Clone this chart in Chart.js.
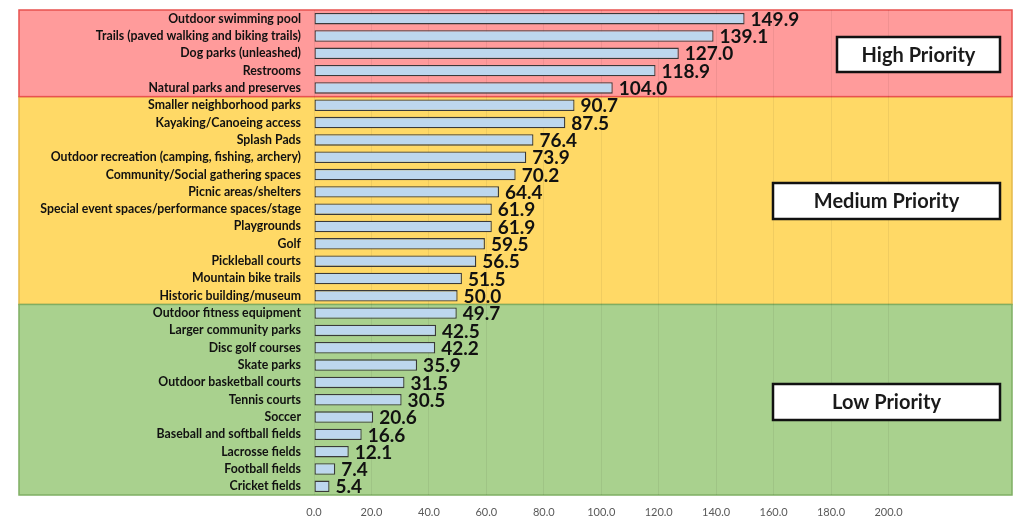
<!DOCTYPE html>
<html>
<head>
<meta charset="utf-8">
<script src="https://cdn.jsdelivr.net/npm/chart.js@4"></script>
<style>
  html, body { margin: 0; padding: 0; background: #ffffff; }
  #wrap { width: 1017px; height: 517px; }
</style>
</head>
<body>
<div id="wrap"><canvas id="chart" width="1017" height="517"></canvas></div>
<script>
// Dane wykresu
const amenities = [
  "Outdoor swimming pool",
  "Trails (paved walking and biking trails)",
  "Dog parks (unleashed)",
  "Restrooms",
  "Natural parks and preserves",
  "Smaller neighborhood parks",
  "Kayaking/Canoeing access",
  "Splash Pads",
  "Outdoor recreation (camping, fishing, archery)",
  "Community/Social gathering spaces",
  "Picnic areas/shelters",
  "Special event spaces/performance spaces/stage",
  "Playgrounds",
  "Golf",
  "Pickleball courts",
  "Mountain bike trails",
  "Historic building/museum",
  "Outdoor fitness equipment",
  "Larger community parks",
  "Disc golf courses",
  "Skate parks",
  "Outdoor basketball courts",
  "Tennis courts",
  "Soccer",
  "Baseball and softball fields",
  "Lacrosse fields",
  "Football fields",
  "Cricket fields"
];
const scores = [149.9, 139.1, 127.0, 118.9, 104.0, 90.7, 87.5, 76.4, 73.9, 70.2, 64.4, 61.9, 61.9,
  59.5, 56.5, 51.5, 50.0, 49.7, 42.5, 42.2, 35.9, 31.5, 30.5, 20.6, 16.6, 12.1, 7.4, 5.4];
const tickValues = [0, 20, 40, 60, 80, 100, 120, 140, 160, 180, 200];

// Grupy priorytetów (liczba kategorii w każdej grupie)
const groupNames = ["High Priority", "Medium Priority", "Low Priority"];
const groupCounts = [5, 12, 11];

// Style pasów i ramek
const bandFill = ["#ff9b9b", "#ffd966", "#a9d18e"];
const bandStroke = ["#e8524f", "#e5b94a", "#7fae63"];
const boxRects = [
  { x: 837, y: 37, w: 163, h: 35 },
  { x: 773, y: 183, w: 227, h: 36 },
  { x: 773, y: 384, w: 227, h: 36 }
];

// Tło z pasami priorytetów
const bandsPlugin = {
  id: "bands",
  beforeDraw(chart) {
    const { ctx, chartArea, scales } = chart;
    const bands = [];
    let start = 0;
    groupCounts.forEach((n, i) => {
      const top = scales.y.getPixelForValue(start - 0.5);
      const bottom = scales.y.getPixelForValue(start + n - 0.5);
      bands.push({ i, top, bottom });
      start += n;
    });
    // kolejność: żółty pod spodem, czerwony i zielony na wierzchu
    [1, 0, 2].forEach(idx => {
      const b = bands[idx];
      ctx.save();
      ctx.fillStyle = bandFill[idx];
      ctx.fillRect(19, b.top, chartArea.right - 19, b.bottom - b.top);
      ctx.strokeStyle = bandStroke[idx];
      ctx.lineWidth = 1.5;
      ctx.strokeRect(19, b.top, chartArea.right - 19, b.bottom - b.top);
      ctx.restore();
    });
  },
  afterDraw(chart) {
    const { ctx } = chart;
    groupNames.forEach((name, i) => {
      const r = boxRects[i];
      ctx.save();
      ctx.fillStyle = "#ffffff";
      ctx.fillRect(r.x, r.y, r.w, r.h);
      ctx.strokeStyle = "#111111";
      ctx.lineWidth = 2.5;
      ctx.strokeRect(r.x, r.y, r.w, r.h);
      ctx.fillStyle = "#1a1a1a";
      ctx.font = "bold 20px Lato";
      ctx.textAlign = "center";
      ctx.textBaseline = "middle";
      ctx.fillText(name, r.x + r.w / 2, r.y + r.h / 2 + 1);
      ctx.restore();
    });
  }
};

// Etykiety wartości obok słupków
const valueLabels = {
  id: "valueLabels",
  afterDatasetsDraw(chart) {
    const { ctx } = chart;
    const meta = chart.getDatasetMeta(0);
    ctx.save();
    ctx.fillStyle = "#111111";
    ctx.font = "bold 19px Lato";
    ctx.textAlign = "left";
    ctx.textBaseline = "middle";
    meta.data.forEach((bar, i) => {
      ctx.fillText(scores[i].toFixed(1), bar.x + 6, bar.y + 1);
    });
    ctx.restore();
  }
};

const ctx = document.getElementById("chart").getContext("2d");
new Chart(ctx, {
  type: "bar",
  data: {
    labels: amenities,
    datasets: [{
      data: scores,
      backgroundColor: "#bdd7ee",
      borderColor: "#3a3a3a",
      borderWidth: 1.3,
      borderSkipped: false,
      categoryPercentage: 1.0,
      barPercentage: 0.66
    }]
  },
  options: {
    indexAxis: "y",
    responsive: false,
    animation: false,
    layout: { padding: { top: 10, right: 5, left: 0, bottom: 0 } },
    scales: {
      x: {
        min: 0,
        max: 243,
        afterBuildTicks(scale) {
          scale.ticks = tickValues.map(v => ({ value: v }));
        },
        afterFit(scale) {
          scale.height = 22;
          scale.paddingTop = 0;
          scale.paddingBottom = 0;
        },
        ticks: {
          color: "#595959",
          font: { family: "Lato", size: 11 },
          padding: 11,
          callback: v => Number(v).toFixed(1)
        },
        grid: { color: "rgba(0,0,0,0.06)", drawTicks: false },
        border: { display: false }
      },
      y: {
        afterFit(scale) {
          scale.width = 314;
          scale.paddingTop = 0;
          scale.paddingBottom = 0;
        },
        ticks: {
          color: "#111111",
          font: { family: "Lato", size: 12.3, weight: "bold" },
          padding: 13,
          autoSkip: false
        },
        grid: { display: false, drawTicks: false },
        border: { display: false }
      }
    },
    plugins: {
      legend: { display: false },
      tooltip: { enabled: false }
    }
  },
  plugins: [bandsPlugin, valueLabels]
});
</script>
</body>
</html>
